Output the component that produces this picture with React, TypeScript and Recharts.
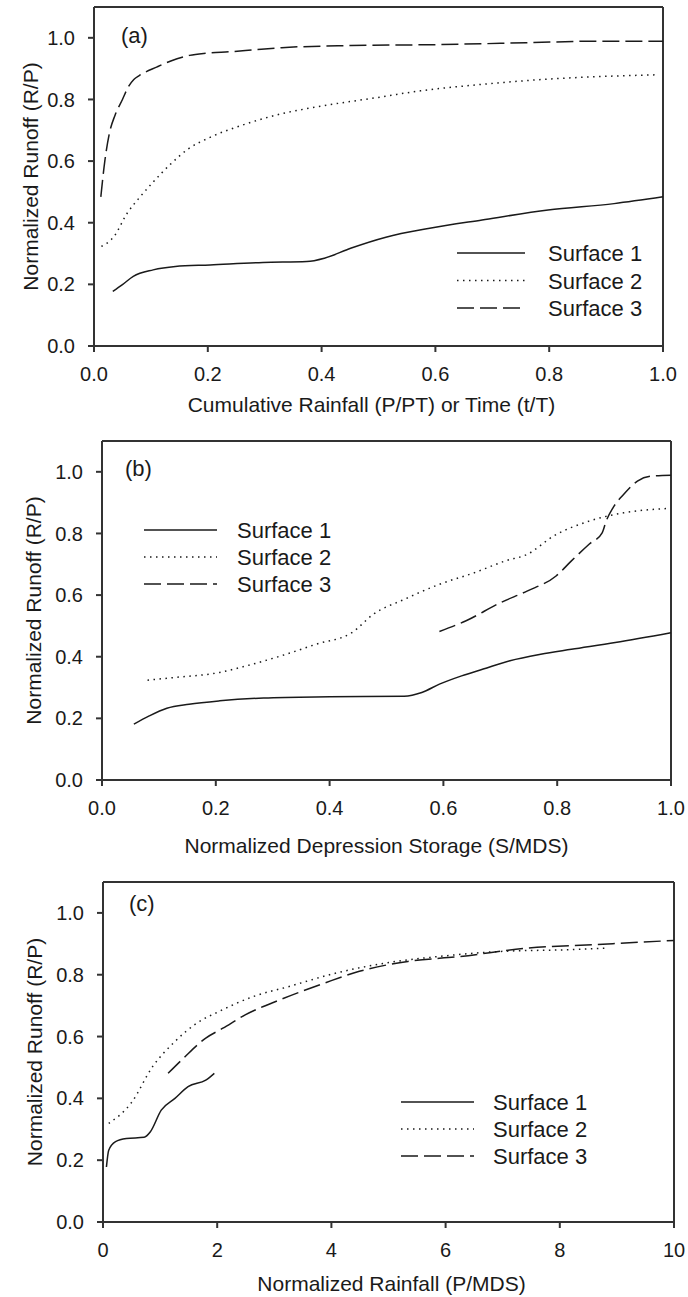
import { LineChart, Line, XAxis, YAxis, Legend, ReferenceLine } from 'recharts'

const FONT = '"Liberation Sans", Arial, sans-serif'
const INK = '#1a1a1a'
const AXIS = '#333'

type Pt = { x: number; y: number }

// (a) runoff vs cumulative rainfall
const aSurface1: Pt[] = [
  { x: 0.033, y: 0.177 }, { x: 0.05, y: 0.199 }, { x: 0.069, y: 0.226 }, { x: 0.104, y: 0.247 },
  { x: 0.143, y: 0.258 }, { x: 0.204, y: 0.263 }, { x: 0.297, y: 0.271 }, { x: 0.374, y: 0.274 },
  { x: 0.405, y: 0.285 }, { x: 0.451, y: 0.317 }, { x: 0.513, y: 0.353 }, { x: 0.59, y: 0.382 },
  { x: 0.682, y: 0.409 }, { x: 0.798, y: 0.441 }, { x: 0.914, y: 0.462 }, { x: 1.0, y: 0.484 },
]
const aSurface2: Pt[] = [
  { x: 0.013, y: 0.323 }, { x: 0.035, y: 0.355 }, { x: 0.058, y: 0.43 }, { x: 0.081, y: 0.484 },
  { x: 0.104, y: 0.532 }, { x: 0.135, y: 0.591 }, { x: 0.166, y: 0.64 }, { x: 0.204, y: 0.677 },
  { x: 0.266, y: 0.72 }, { x: 0.328, y: 0.753 }, { x: 0.405, y: 0.78 }, { x: 0.497, y: 0.806 },
  { x: 0.574, y: 0.828 }, { x: 0.682, y: 0.849 }, { x: 0.798, y: 0.866 }, { x: 0.914, y: 0.876 },
  { x: 0.99, y: 0.88 },
]
const aSurface3: Pt[] = [
  { x: 0.012, y: 0.484 }, { x: 0.019, y: 0.6 }, { x: 0.027, y: 0.69 }, { x: 0.037, y: 0.749 },
  { x: 0.05, y: 0.8 }, { x: 0.06, y: 0.84 }, { x: 0.07, y: 0.865 }, { x: 0.08, y: 0.878 },
  { x: 0.11, y: 0.905 }, { x: 0.135, y: 0.925 }, { x: 0.168, y: 0.943 }, { x: 0.198, y: 0.95 },
  { x: 0.24, y: 0.955 }, { x: 0.286, y: 0.962 }, { x: 0.33, y: 0.968 }, { x: 0.451, y: 0.975 },
  { x: 0.605, y: 0.978 }, { x: 0.76, y: 0.984 }, { x: 0.883, y: 0.989 }, { x: 1.0, y: 0.989 },
]

// (b) runoff vs normalized depression storage
const bSurface1: Pt[] = [
  { x: 0.056, y: 0.181 }, { x: 0.083, y: 0.208 }, { x: 0.114, y: 0.233 }, { x: 0.153, y: 0.246 },
  { x: 0.207, y: 0.257 }, { x: 0.284, y: 0.266 }, { x: 0.4, y: 0.27 }, { x: 0.531, y: 0.272 },
  { x: 0.562, y: 0.284 }, { x: 0.593, y: 0.311 }, { x: 0.632, y: 0.338 }, { x: 0.67, y: 0.36 },
  { x: 0.717, y: 0.387 }, { x: 0.771, y: 0.408 }, { x: 0.825, y: 0.424 }, { x: 0.902, y: 0.446 },
  { x: 1.0, y: 0.478 },
]
const bSurface2: Pt[] = [
  { x: 0.08, y: 0.324 }, { x: 0.13, y: 0.333 }, { x: 0.207, y: 0.349 }, { x: 0.253, y: 0.37 },
  { x: 0.315, y: 0.403 }, { x: 0.377, y: 0.441 }, { x: 0.439, y: 0.478 }, { x: 0.477, y: 0.538 },
  { x: 0.531, y: 0.586 }, { x: 0.593, y: 0.635 }, { x: 0.655, y: 0.673 }, { x: 0.709, y: 0.711 },
  { x: 0.747, y: 0.732 }, { x: 0.794, y: 0.792 }, { x: 0.856, y: 0.84 }, { x: 0.917, y: 0.867 },
  { x: 0.995, y: 0.881 },
]
const bSurface3: Pt[] = [
  { x: 0.593, y: 0.482 }, { x: 0.639, y: 0.516 }, { x: 0.701, y: 0.576 }, { x: 0.747, y: 0.613 },
  { x: 0.798, y: 0.662 }, { x: 0.825, y: 0.711 }, { x: 0.856, y: 0.765 }, { x: 0.879, y: 0.802 },
  { x: 0.886, y: 0.84 }, { x: 0.898, y: 0.883 }, { x: 0.917, y: 0.927 }, { x: 0.941, y: 0.97 },
  { x: 0.964, y: 0.986 }, { x: 1.0, y: 0.989 },
]

// (c) runoff vs normalized rainfall
const cSurface1: Pt[] = [
  { x: 0.06, y: 0.178 }, { x: 0.1, y: 0.232 }, { x: 0.22, y: 0.26 }, { x: 0.41, y: 0.27 },
  { x: 0.72, y: 0.274 }, { x: 0.83, y: 0.292 }, { x: 1.02, y: 0.362 }, { x: 1.26, y: 0.4 },
  { x: 1.49, y: 0.438 }, { x: 1.8, y: 0.459 }, { x: 1.95, y: 0.481 },
]
const cSurface2: Pt[] = [
  { x: 0.1, y: 0.319 }, { x: 0.49, y: 0.384 }, { x: 0.87, y: 0.503 }, { x: 1.26, y: 0.584 },
  { x: 1.64, y: 0.643 }, { x: 2.03, y: 0.681 }, { x: 2.64, y: 0.73 }, { x: 3.26, y: 0.762 },
  { x: 4.03, y: 0.803 }, { x: 4.95, y: 0.838 }, { x: 5.88, y: 0.859 }, { x: 7.03, y: 0.876 },
  { x: 8.19, y: 0.881 }, { x: 8.81, y: 0.886 },
]
const cSurface3: Pt[] = [
  { x: 1.14, y: 0.481 }, { x: 1.41, y: 0.53 }, { x: 1.8, y: 0.595 }, { x: 2.1, y: 0.627 },
  { x: 2.49, y: 0.67 }, { x: 3.1, y: 0.719 }, { x: 3.88, y: 0.773 }, { x: 4.49, y: 0.811 },
  { x: 5.34, y: 0.843 }, { x: 6.26, y: 0.859 }, { x: 7.42, y: 0.886 }, { x: 8.57, y: 0.897 },
  { x: 10, y: 0.911 },
]

const unitTicks = [0, 0.2, 0.4, 0.6, 0.8, 1.0]
const rainTicks = [0, 2, 4, 6, 8, 10]
const runoffTicks = [0, 0.2, 0.4, 0.6, 0.8, 1.0]
const seriesNames = ['Surface 1', 'Surface 2', 'Surface 3']
const seriesDash = [undefined, '1.5 4.5', '17 6']
const yTitle = 'Normalized Runoff (R/P)'

type PanelProps = {
  top: number
  height: number
  plot: { left: number; right: number; top: number; bottom: number }
  tag: string
  tagLeft: number
  tagY: number
  xTitle: string
  xTitleDx: number
  xTitleDy: number
  yTitleX: number
  xTicks: number[]
  xMax: number
  xFmt: (v: number) => string
  series: Pt[][]
  legend: { left: number; top: number; line: number; textGap: number; row: number }
}

const Panel = (p: PanelProps) => {
  const W = 688
  const xAxisH = 70
  const margin = {
    top: p.plot.top - p.top,
    right: W - p.plot.right,
    left: 0,
    bottom: p.height - (p.plot.bottom - p.top) - xAxisH,
  }
  const plotMidX = (p.plot.left + p.plot.right) / 2
  const plotMidY = (p.plot.top + p.plot.bottom) / 2 - p.top
  const lg = p.legend
  const xtX = plotMidX + p.xTitleDx
  const xtY = p.plot.bottom - p.top + p.xTitleDy + 7.5
  const ytX = p.yTitleX + 7.5

  const LegendBox = () => (
    <svg width={220} height={lg.row * 3 + 10} style={{ display: 'block' }}>
      {seriesNames.map((n, i) => {
        const cy = 14 + i * lg.row
        return (
          <g key={n}>
            <line x1={0} x2={lg.line} y1={cy} y2={cy} stroke={INK} strokeWidth={1.5} strokeDasharray={seriesDash[i]} />
            <text x={lg.textGap} y={cy + 8} fontSize={22} fontFamily={FONT} fill={INK}>{n}</text>
          </g>
        )
      })}
    </svg>
  )

  return (
    <div style={{ position: 'absolute', left: 0, top: p.top, width: W, height: p.height }}>
      <LineChart width={W} height={p.height} margin={margin}>
        <XAxis
          dataKey="x"
          type="number"
          domain={[0, p.xMax]}
          ticks={p.xTicks}
          tickFormatter={p.xFmt}
          height={xAxisH}
          stroke={AXIS}
          strokeWidth={2}
          tickSize={6}
          tickMargin={15}
          tick={{ fontSize: 20, fontFamily: FONT, fill: INK }}
          label={() => (
            <text x={xtX} y={xtY} textAnchor="middle" fontSize={21} fontFamily={FONT} fill={INK}>
              {p.xTitle}
            </text>
          )}
        />
        <YAxis
          dataKey="y"
          type="number"
          domain={[0, 1.1]}
          ticks={runoffTicks}
          tickFormatter={(v: number) => v.toFixed(1)}
          width={p.plot.left}
          stroke={AXIS}
          strokeWidth={2}
          tickSize={6}
          tickMargin={13}
          tick={{ fontSize: 20, fontFamily: FONT, fill: INK }}
          label={() => (
            <text
              x={ytX}
              y={plotMidY}
              transform={`rotate(-90 ${ytX} ${plotMidY})`}
              textAnchor="middle"
              fontSize={21}
              fontFamily={FONT}
              fill={INK}
            >
              {yTitle}
            </text>
          )}
        />
        <ReferenceLine y={1.1} stroke={AXIS} strokeWidth={2} />
        <ReferenceLine x={p.xMax} stroke={AXIS} strokeWidth={2} />
        {p.series.map((d, i) => (
          <Line
            key={seriesNames[i]}
            data={d}
            dataKey="y"
            name={seriesNames[i]}
            type="monotone"
            stroke={INK}
            strokeWidth={1.5}
            strokeDasharray={seriesDash[i]}
            dot={false}
            activeDot={false}
            isAnimationActive={false}
          />
        ))}
        <Legend
          layout="vertical"
          verticalAlign="middle"
          align="center"
          content={() => <LegendBox />}
          wrapperStyle={{ position: 'absolute', left: lg.left, top: lg.top - p.top - 14, width: 220 }}
        />
      </LineChart>
      <div
        style={{
          position: 'absolute',
          left: p.tagLeft,
          top: p.tagY - p.top - 12,
          fontSize: 22,
          lineHeight: '22px',
          fontFamily: FONT,
          color: INK,
        }}
      >
        {p.tag}
      </div>
    </div>
  )
}

const fmt1 = (v: number) => v.toFixed(1)
const fmt0 = (v: number) => String(v)

export default function App() {
  return (
    <div style={{ position: 'absolute', left: 0, top: 0, width: 688, height: 1297, background: '#fff' }}>
      <Panel
        top={0}
        height={420}
        plot={{ left: 94, right: 663, top: 7, bottom: 346 }}
        tag="(a)"
        tagLeft={121}
        tagY={37}
        xTitle="Cumulative Rainfall (P/PT) or Time (t/T)"
        xTitleDx={-7}
        xTitleDy={58}
        yTitleX={30}
        xTicks={unitTicks}
        xMax={1}
        xFmt={fmt1}
        series={[aSurface1, aSurface2, aSurface3]}
        legend={{ left: 457, top: 253, line: 68, textGap: 91, row: 27.5 }}
      />
      <Panel
        top={420}
        height={440}
        plot={{ left: 102, right: 671, top: 441, bottom: 780 }}
        tag="(b)"
        tagLeft={125}
        tagY={470}
        xTitle="Normalized Depression Storage (S/MDS)"
        xTitleDx={-10}
        xTitleDy={65}
        yTitleX={33}
        xTicks={unitTicks}
        xMax={1}
        xFmt={fmt1}
        series={[bSurface1, bSurface2, bSurface3]}
        legend={{ left: 144, top: 530, line: 73, textGap: 93, row: 27 }}
      />
      <Panel
        top={860}
        height={437}
        plot={{ left: 103, right: 674, top: 882, bottom: 1222 }}
        tag="(c)"
        tagLeft={129}
        tagY={905}
        xTitle="Normalized Rainfall (P/MDS)"
        xTitleDx={3}
        xTitleDy={61}
        yTitleX={34}
        xTicks={rainTicks}
        xMax={10}
        xFmt={fmt0}
        series={[cSurface1, cSurface2, cSurface3]}
        legend={{ left: 401, top: 1102, line: 73, textGap: 92, row: 27 }}
      />
    </div>
  )
}
